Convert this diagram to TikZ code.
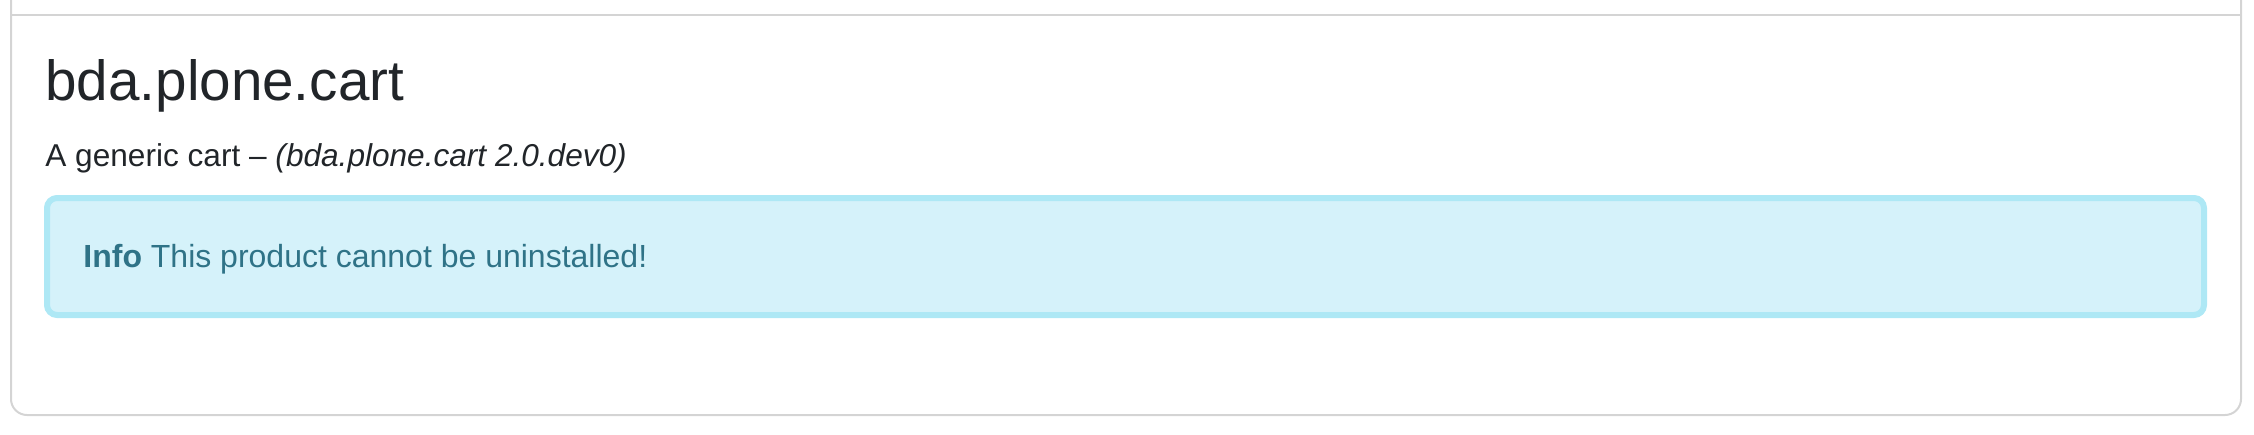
\documentclass[tikz,border=0pt]{standalone}
\usepackage{fontspec}
\setmainfont{Liberation Sans}
\usepackage{tikz}
\usetikzlibrary{positioning}

\definecolor{cardgray}{HTML}{D4D4D4}
\definecolor{darktext}{HTML}{212529}
\definecolor{infofill}{HTML}{D5F2FA}
\definecolor{infoline}{HTML}{AEE8F5}
\definecolor{infotext}{HTML}{2F7387}

\begin{document}
\begin{tikzpicture}[x=0.5pt,y=-0.5pt,
	card/.style={draw=cardgray, line width=1pt, rounded corners=8},
	alertbox/.style={draw=infoline, fill=infofill, line width=3pt, rounded corners=5},
	txt/.style={inner sep=0pt, anchor=base west}]
	\useasboundingbox (0,0) rectangle (2254,434);
	
	\draw[card] (11,-20) -- (11,415) -- (2241,415) -- (2241,-20);
	\draw[draw=cardgray, line width=1pt] (11,15) -- (2241,15);
	
	\node[txt, text=darktext, font=\fontsize{28.3}{34}\selectfont] (title) at (45,100) {bda.plone.cart};
	\node[txt, text=darktext, font=\fontsize{15.8}{19}\selectfont] (subtitle) at (45,166) {A generic cart -- \textit{(bda.plone.cart 2.0.dev0)}};
	
	\draw[alertbox] (47,198) rectangle (2204,315);
	\node[txt, text=infotext, font=\fontsize{16}{19}\selectfont] (info) at (83,267) {\textbf{Info} This product cannot be uninstalled!};
\end{tikzpicture}
\end{document}
